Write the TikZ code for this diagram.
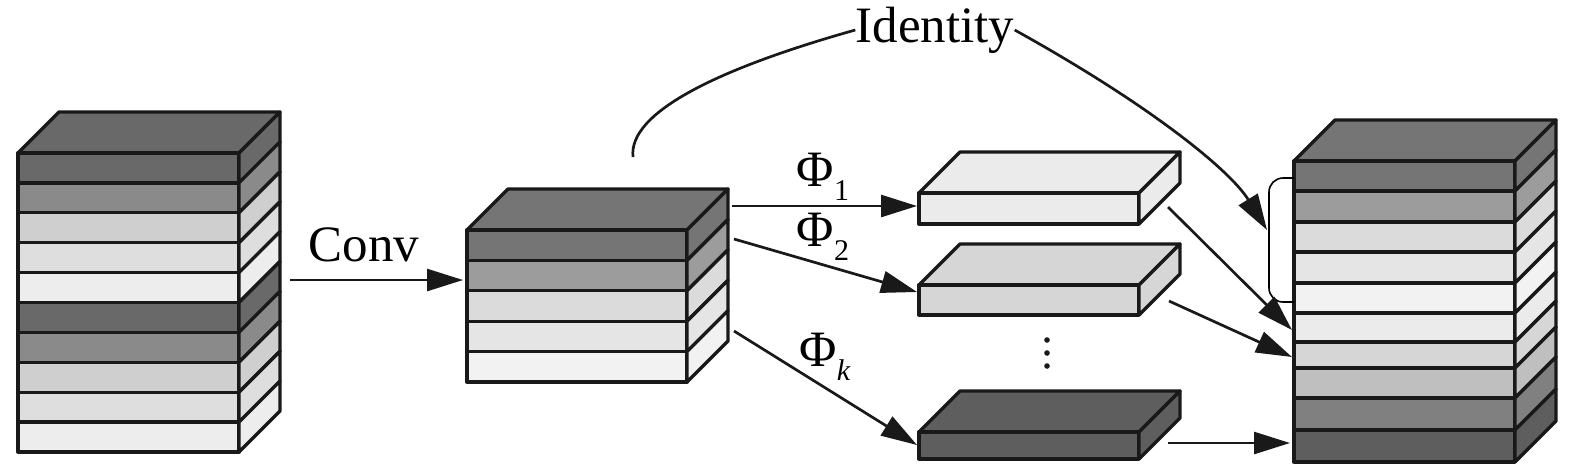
\documentclass[tikz,border=0pt]{standalone}
\usepackage{fontspec}
\setmainfont{Liberation Serif}
\usepackage{xcolor}
\usetikzlibrary{arrows.meta}

\definecolor{grayA}{gray}{0.41}
\definecolor{grayB}{gray}{0.54}
\definecolor{grayC}{gray}{0.81}
\definecolor{grayD}{gray}{0.87}
\definecolor{grayE}{gray}{0.93}
\definecolor{midA}{gray}{0.46}
\definecolor{midB}{gray}{0.61}
\definecolor{midC}{gray}{0.86}
\definecolor{midD}{gray}{0.90}
\definecolor{midE}{gray}{0.95}
\definecolor{outF}{gray}{0.92}
\definecolor{outG}{gray}{0.84}
\definecolor{outH}{gray}{0.75}
\definecolor{outI}{gray}{0.50}
\definecolor{outJ}{gray}{0.37}

% one layer: x, y, width, height, fill (front face and side face)
\newcommand{\drawlayer}[5]{%
  \filldraw[face, fill=#5] (#1,#2) rectangle ++(#3,#4);
  \filldraw[face, fill=#5] (#1+#3,#2) -- ++(41,-41) -- ++(0,#4) -- ++(-41,41) -- cycle;
}
% top face: x, y, width, fill
\newcommand{\drawtop}[4]{%
  \filldraw[face, fill=#4] (#1,#2) -- ++(41,-41) -- ++(#3,0) -- ++(-41,41) -- cycle;
}
\newcommand{\sub}[1]{\raisebox{-0.28em}{\fontsize{15}{18}\selectfont #1}}

\begin{document}
\begin{tikzpicture}[
        x=0.5pt, y=-0.5pt,
        face/.style={draw=black!90, line width=1.65pt, line join=round},
        arrow/.style={-{Triangle[length=18pt, width=11pt]}, line width=1.35pt, draw=black!90},
        curve/.style={line width=1.35pt, draw=black!90},
        label/.style={inner sep=0pt, font=\fontsize{25.5}{30}\selectfont}
    ]
    \useasboundingbox (0,0) rectangle (1575,463);

    % input stack
    \drawtop{18}{153}{221}{grayA}
    \foreach \c [count=\i from 0] in {grayA,grayB,grayC,grayD,grayE,grayA,grayB,grayC,grayD,grayE}
        {\drawlayer{18}{153+29.9*\i}{221}{29.9}{\c}}

    % conv stack
    \drawtop{467}{230}{220}{midA}
    \foreach \c [count=\i from 0] in {midA,midB,midC,midD,midE}
        {\drawlayer{467}{230+30.4*\i}{220}{30.4}{\c}}

    % transformed slabs
    \drawtop{919}{193}{220}{outF}
    \drawlayer{919}{193}{220}{31}{outF}
    \drawtop{919}{285}{220}{outG}
    \drawlayer{919}{285}{220}{30}{outG}
    \drawtop{919}{432}{220}{outJ}
    \drawlayer{919}{432}{220}{27}{outJ}
    \foreach \y in {340,353,366}
        \fill[black!90] (1047,\y) circle (1.4pt);

    % output stack
    \drawtop{1294}{161}{221}{midA}
    \foreach \y/\h/\c in {161/30/midA, 191/31/midB, 222/30/midC, 252/31/midD, 283/30/midE,
                          313/29/outF, 342/26/outG, 368/30/outH, 398/32/outI, 430/32/outJ}
        {\drawlayer{1294}{\y}{221}{\h}{\c}}
    \draw[line width=0.8pt, rounded corners=7pt] (1294,178) -- (1269,178) -- (1269,302) -- (1294,302);

    \coordinate (in-out) at (290,280);
    \coordinate (conv-in) at (463,280);
    \coordinate (conv-a) at (732,206);
    \coordinate (conv-b) at (734,239);
    \coordinate (conv-k) at (734,331);
    \coordinate (slab-a-in) at (917,206);
    \coordinate (slab-b-in) at (917,292);
    \coordinate (slab-k-in) at (917,445);
    \coordinate (slab-a-out) at (1168,207);
    \coordinate (slab-b-out) at (1169,301);
    \coordinate (slab-k-out) at (1168,443);
    \coordinate (cat-a) at (1292,330);
    \coordinate (cat-b) at (1292,357);
    \coordinate (cat-k) at (1290,443);
    \coordinate (skip) at (633,157);
    \coordinate (cat-id) at (1267,230);

    \node (conv) [label] at (364,245) {Conv};
    \node (phi1) [label] at (823,177) {Φ\sub{1}};
    \node (phi2) [label] at (823,237) {Φ\sub{2}};
    \node (phik) [label] at (825,357) {Φ\sub{\textit{k}}};
    \node (ident) [label] at (935,30) {Identity};

    \draw [arrow] (in-out) -- (conv-in);
    \draw [arrow] (conv-a) -- (slab-a-in);
    \draw [arrow] (conv-b) -- (slab-b-in);
    \draw [arrow] (conv-k) -- (slab-k-in);
    \draw [arrow] (slab-a-out) -- (cat-a);
    \draw [arrow] (slab-b-out) -- (cat-b);
    \draw [arrow] (slab-k-out) -- (cat-k);
    \draw [curve] (skip) .. controls (628,112) and (720,68) .. (ident.west);
    \draw [arrow] (ident.east) .. controls (1150,105) and (1230,170) .. (cat-id);

\end{tikzpicture}
\end{document}
